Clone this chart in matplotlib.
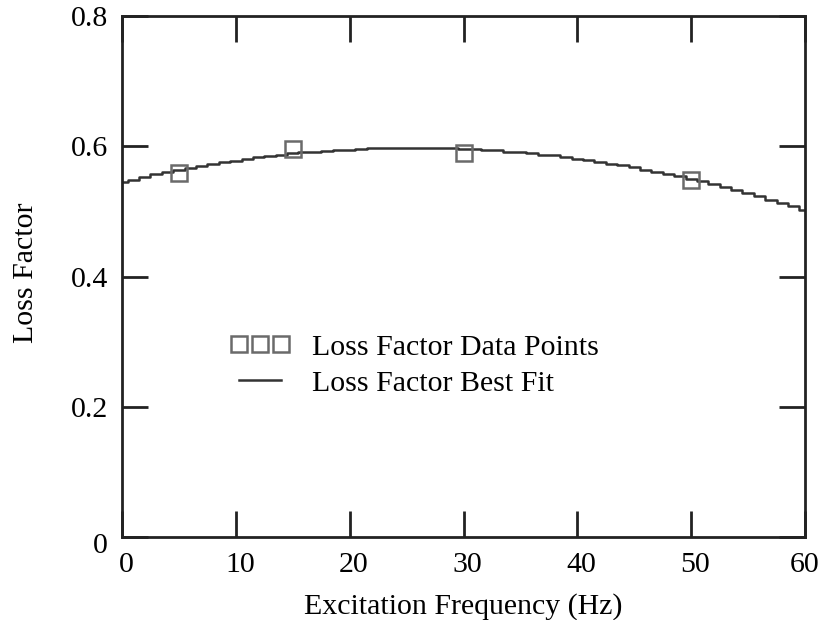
import matplotlib
matplotlib.use("Agg")
import matplotlib.pyplot as plt
import matplotlib.transforms as mtransforms

# Measured data points
freq_pts = [5, 15, 30, 50]
loss_pts = [0.559, 0.596, 0.590, 0.548]

# Best-fit curve values (1 Hz spacing)
freq_fit = list(range(0, 61))
loss_fit = [0.545, 0.549, 0.553, 0.557, 0.560, 0.564, 0.567, 0.570, 0.573, 0.576,
            0.578, 0.581, 0.583, 0.585, 0.587, 0.589, 0.591, 0.592, 0.593, 0.594,
            0.595, 0.596, 0.597, 0.597, 0.598, 0.598, 0.598, 0.598, 0.597, 0.597,
            0.596, 0.596, 0.595, 0.594, 0.592, 0.591, 0.589, 0.587, 0.586, 0.583,
            0.581, 0.579, 0.576, 0.573, 0.571, 0.568, 0.564, 0.561, 0.557, 0.554,
            0.550, 0.546, 0.542, 0.537, 0.533, 0.528, 0.523, 0.518, 0.513, 0.508,
            0.502]

x_ticks = [0, 10, 20, 30, 40, 50, 60]
y_ticks = [0, 0.2, 0.4, 0.6, 0.8]
y_tick_labels = ["0", "0.2", "0.4", "0.6", "0.8"]

plt.rcParams['font.family'] = ['Liberation Serif', 'DejaVu Serif']
FS = 21.5

fig = plt.figure(figsize=(8.25, 6.2), dpi=100)
ax = fig.add_axes([0.1479, 0.134, 0.8279, 0.840])

ax.plot(freq_fit, loss_fit, drawstyle='steps-mid', color='#333333', lw=1.8,
        label='Loss Factor Best Fit', zorder=2)
ax.plot(freq_pts, loss_pts, linestyle='none', marker='s', ms=11,
        markerfacecolor='none', markeredgecolor='#6a6a6a', mew=1.8,
        label='Loss Factor Data Points', zorder=3)

ax.set_xlim(0, 60)
ax.set_ylim(0, 0.8)
ax.set_xticks(x_ticks)
ax.set_yticks(y_ticks)
ax.set_yticklabels(y_tick_labels)
ax.tick_params(direction='in', length=19, width=2, top=True, right=True,
               labelsize=FS, color='#222222')
ax.tick_params(axis='x', pad=11)
ax.tick_params(axis='y', pad=10)
for s in ax.spines.values():
    s.set_linewidth(2)
    s.set_color('#222222')

# small label offsets as in the original
shift_x = mtransforms.ScaledTranslation(4 / 100, 0, fig.dpi_scale_trans)
for i, lab in enumerate(ax.get_xticklabels()):
    if i < len(x_ticks) - 1:
        lab.set_transform(lab.get_transform() + shift_x)
shift_y0 = mtransforms.ScaledTranslation(0, -6 / 100, fig.dpi_scale_trans)
lab0 = ax.get_yticklabels()[0]
lab0.set_transform(lab0.get_transform() + shift_y0)

ax.set_xlabel('Excitation Frequency (Hz)', fontsize=FS)
ax.set_ylabel('Loss Factor', fontsize=FS)
ax.xaxis.set_label_coords(0.5, -0.107)
ax.yaxis.set_label_coords(-0.122, 0.507)

handles, labels = ax.get_legend_handles_labels()
leg = ax.legend(handles[::-1], labels[::-1], numpoints=3, frameon=False,
                loc='upper left', bbox_to_anchor=(0.158, 0.39), fontsize=FS,
                handlelength=2.0, handletextpad=0.75, labelspacing=0.3,
                borderpad=0, borderaxespad=0)

fig.savefig('out.png', dpi=100)
